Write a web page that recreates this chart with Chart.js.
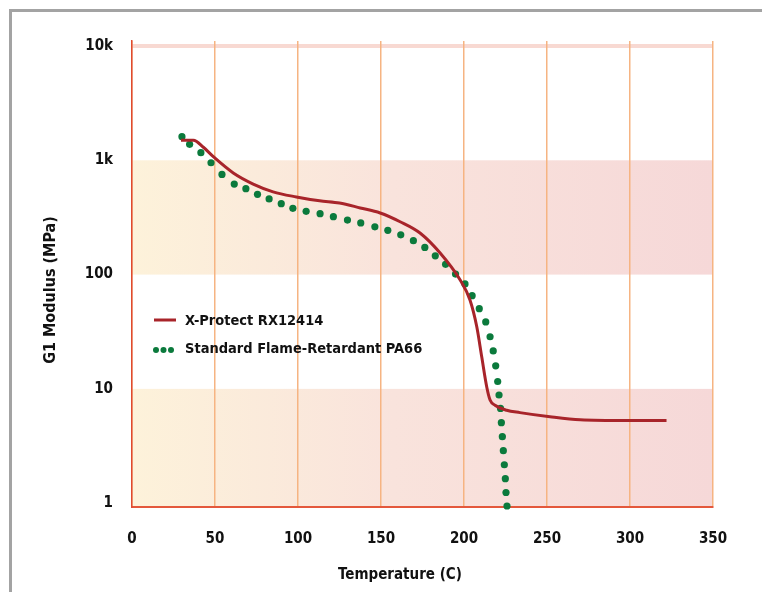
<!DOCTYPE html>
<html>
<head>
<meta charset="utf-8">
<script src="https://cdn.jsdelivr.net/npm/chart.js@4.4.1/dist/chart.umd.min.js"></script>
<style>
    html, body { margin: 0; padding: 0; background: #fff; }
    #wrap { position: relative; width: 762px; height: 592px; overflow: hidden; }
    #frame { position: absolute; left: 9px; top: 9px; right: -10px; bottom: -10px;
             border-left: 3px solid #a3a3a3; border-top: 3px solid #a3a3a3; }
    #wrap canvas { position: absolute; left: 0; top: 0; }
</style>
</head>
<body>
<div id="wrap">
    <div id="frame"></div>
    <canvas id="chart" width="762" height="592"></canvas>
</div>
<script>
// ---- data ----
const redLabel = 'X-Protect RX12414';
const redTemp    = [29.5, 37, 43, 49, 61, 73, 85, 99, 113, 125, 137.5, 149.5, 161.5, 173.5, 185.5, 197.6, 203.6, 207.7, 210.7, 213.7, 215.7, 218.7, 225.7, 233.7, 251.8, 270, 298, 322];
const redModulus = [1500, 1500, 1300, 1075, 775, 620, 530, 478, 442, 423, 383, 346, 290, 231, 155, 90, 60, 35, 19, 10.4, 8.0, 7.2, 6.5, 6.2, 5.7, 5.36, 5.28, 5.28];

const greenLabel = 'Standard Flame-Retardant PA66';
const greenTemp    = [30.1, 34.7, 41.5, 47.6, 54.2, 61.6, 68.6, 75.6, 82.6, 89.9, 96.9, 104.9, 113.3, 121.3, 129.8, 137.8, 146.3, 154.1, 161.9, 169.5, 176.4, 182.7, 188.9, 194.9, 200.6, 204.9, 209.2, 213.1, 215.7, 217.6, 219.1, 220.3, 221.1, 222, 222.5, 223.1, 223.7, 224.3, 224.9, 225.3, 225.9];
const greenModulus = [1609, 1380, 1165, 952, 753, 620, 564, 504, 459, 417, 380, 358, 341, 321, 300, 283, 262, 244, 223, 198, 173, 146, 123, 101, 82.8, 65.4, 50.3, 38.5, 28.6, 21.5, 15.9, 11.6, 8.84, 6.74, 5.06, 3.82, 2.88, 2.17, 1.64, 1.24, 0.945];

const yTickValues = [1, 10, 100, 1000, 10000];
const yTickLabels = ['1', '10', '100', '1k', '10k'];
const xTickStep = 50;

// shaded bands (modulus ranges) and the stripe on the top decade
const bandRanges = [[100, 1000], [0.5, 10]];
const stripeValue = 10000;

const xTitle = 'Temperature (C)';
const yTitle = 'G1 Modulus (MPa)';

// ---- look ----
const FONT = "'DejaVu Sans Condensed', 'Liberation Sans Narrow', sans-serif";
const RED = '#a8242a';
const GREEN = '#0b7a3c';

const toPoints = (xs, ys) => xs.map((x, i) => ({ x: x, y: ys[i] }));

// bands behind the grid
const bandPlugin = {
    id: 'bands',
    beforeDraw(chart) {
        const { ctx, chartArea: a, scales: { y } } = chart;
        const grad = ctx.createLinearGradient(a.left, 0, a.right, 0);
        grad.addColorStop(0, '#fdf2da');
        grad.addColorStop(0.45, '#f9e3dc');
        grad.addColorStop(1, '#f6d8d8');
        ctx.save();
        ctx.fillStyle = grad;
        bandRanges.forEach(([lo, hi]) => {
            const top = Math.max(y.getPixelForValue(hi), a.top);
            const bot = Math.min(y.getPixelForValue(lo), a.bottom);
            ctx.fillRect(a.left, top, a.right - a.left, bot - top);
        });
        const sy = y.getPixelForValue(stripeValue);
        ctx.strokeStyle = '#f8d9d2';
        ctx.lineWidth = 4;
        ctx.beginPath();
        ctx.moveTo(a.left, sy);
        ctx.lineTo(a.right, sy);
        ctx.stroke();
        ctx.restore();
    }
};

// legend inside the plot + axis titles
const overlayPlugin = {
    id: 'overlay',
    afterDraw(chart) {
        const ctx = chart.ctx;
        const ds = chart.data.datasets;
        ctx.save();
        ctx.font = 'bold 14.5px ' + FONT;
        ctx.fillStyle = '#111';
        ctx.textBaseline = 'middle';
        ctx.textAlign = 'left';

        // red line sample
        ctx.strokeStyle = ds[0].borderColor;
        ctx.lineWidth = 3;
        ctx.beginPath();
        ctx.moveTo(154, 320);
        ctx.lineTo(176, 320);
        ctx.stroke();
        ctx.fillText(ds[0].label, 185, 321);

        // dotted sample
        ctx.fillStyle = ds[1].pointBackgroundColor;
        [156, 163.5, 171].forEach(cx => {
            ctx.beginPath();
            ctx.arc(cx, 350, 3, 0, Math.PI * 2);
            ctx.fill();
        });
        ctx.fillStyle = '#111';
        ctx.fillText(ds[1].label, 185, 349);

        // titles
        ctx.font = 'bold 15px ' + FONT;
        ctx.textAlign = 'center';
        ctx.fillText(xTitle, 400, 575);
        ctx.translate(51, 290);
        ctx.rotate(-Math.PI / 2);
        ctx.font = 'bold 16px ' + FONT;
        ctx.fillText(yTitle, 0, 0);
        ctx.restore();
    }
};

new Chart(document.getElementById('chart'), {
    type: 'line',
    data: {
        datasets: [
            {
                label: redLabel,
                data: toPoints(redTemp, redModulus),
                borderColor: RED,
                borderWidth: 3,
                pointRadius: 0,
                cubicInterpolationMode: 'monotone',
                fill: false
            },
            {
                label: greenLabel,
                data: toPoints(greenTemp, greenModulus),
                showLine: false,
                pointRadius: 3.6,
                pointBorderWidth: 0,
                pointBackgroundColor: GREEN,
                pointBorderColor: GREEN,
                clip: false
            }
        ]
    },
    options: {
        responsive: false,
        animation: false,
        layout: { padding: { left: 0, top: 41, right: 49, bottom: 0 } },
        plugins: {
            legend: { display: false },
            tooltip: { enabled: false }
        },
        scales: {
            x: {
                type: 'linear',
                min: 0,
                max: 350,
                ticks: {
                    stepSize: xTickStep,
                    padding: 23,
                    color: '#111',
                    font: { family: FONT, size: 15, weight: 'bold' }
                },
                grid: { color: '#f6b482', lineWidth: 1.5, drawTicks: false },
                border: { color: '#e4583c', width: 2 },
                afterFit: s => { s.height = 85; }
            },
            y: {
                type: 'logarithmic',
                min: 0.926,
                max: 11060,
                afterBuildTicks: s => { s.ticks = yTickValues.map(v => ({ value: v })); },
                ticks: {
                    padding: 19,
                    color: '#111',
                    font: { family: FONT, size: 15, weight: 'bold' },
                    callback: (v) => yTickLabels[yTickValues.indexOf(v)]
                },
                grid: { display: false, drawTicks: false },
                border: { color: '#e04a2f', width: 1.5 },
                afterFit: s => { s.width = 132; }
            }
        }
    },
    plugins: [bandPlugin, overlayPlugin]
});
</script>
</body>
</html>
